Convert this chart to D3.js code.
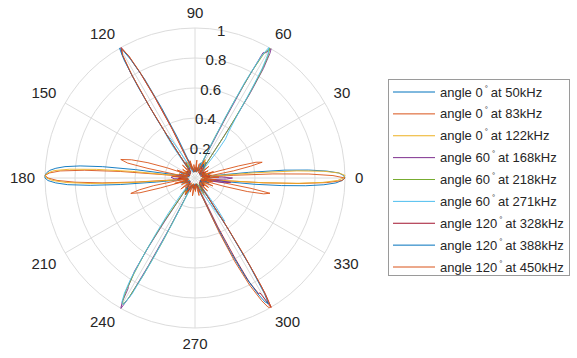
<!DOCTYPE html>
<html>
<head>
<meta charset="utf-8">
<script src="https://cdn.jsdelivr.net/npm/d3@7"></script>
<style>
  html, body { margin: 0; padding: 0; background: #fff; }
  svg text { font-family: "Liberation Sans", Arial, Helvetica, sans-serif; fill: #262626; }
</style>
</head>
<body>
<div id="chart"></div>
<script>
// polar beam patterns, [angle in degrees, normalised amplitude]
const s50 = [[-8,0.05],[-7,0.18],[-6,0.4],[-5,0.58],[-4,0.74],[-3,0.86],[-2,0.94],[-1,0.98],[0,1.0],[1,0.99],[2,0.96],[3,0.88],[4,0.76],[5,0.6],[6,0.36],[7,0.14],[9,0.05],[14,0.1],[19,0.04],[27,0.08],[37,0.05],[47,0.09],[55,0.13],[60,0.07],[68,0.11],[76,0.04],[90,0.07],[104,0.04],[114,0.1],[120,0.12],[127,0.05],[140,0.07],[151,0.04],[159,0.11],[165,0.07],[171,0.16],[172,0.4],[173,0.62],[174,0.77],[175,0.87],[176,0.93],[177,0.97],[178,0.99],[179,1.0],[180,1.0],[181,0.98],[182,0.93],[183,0.85],[184,0.7],[185,0.5],[186,0.26],[187,0.09],[191,0.05],[199,0.1],[211,0.04],[224,0.07],[234,0.1],[240,0.13],[247,0.06],[258,0.04],[271,0.08],[284,0.04],[294,0.09],[300,0.12],[306,0.05],[318,0.08],[331,0.04],[341,0.1],[347,0.06]];
const s83 = [[-18,0.05],[-16,0.2],[-14.5,0.36],[-13,0.47],[-11.5,0.51],[-10.5,0.38],[-9.5,0.2],[-8.5,0.06],[-6,0.08],[-5,0.22],[-4,0.46],[-3,0.7],[-2,0.88],[-1,0.98],[0,1.0],[1,0.92],[2,0.76],[3,0.52],[4,0.26],[5,0.08],[7,0.05],[9,0.12],[10.5,0.26],[12,0.38],[13.2,0.46],[14.5,0.42],[15.5,0.3],[16.5,0.16],[18,0.05],[26,0.07],[36,0.04],[49,0.08],[58,0.12],[65,0.05],[80,0.06],[96,0.04],[111,0.07],[121,0.12],[130,0.05],[146,0.06],[157,0.08],[160,0.2],[162,0.33],[164,0.44],[166,0.51],[167.5,0.46],[168.5,0.32],[170,0.1],[172,0.07],[174,0.22],[175,0.5],[176,0.74],[177,0.9],[178,0.97],[179,1.0],[180,0.98],[181,0.92],[182,0.8],[183,0.62],[184,0.38],[185,0.14],[187,0.05],[189,0.14],[190.5,0.28],[192,0.38],[193.5,0.44],[195,0.38],[196,0.24],[197.5,0.08],[208,0.05],[221,0.08],[237,0.12],[247,0.05],[264,0.07],[281,0.04],[299,0.11],[312,0.05],[326,0.07],[336,0.04]];
const s122 = [[-6,0.05],[-5,0.2],[-4,0.45],[-3,0.68],[-2,0.85],[-1,0.95],[0,0.99],[1,1.0],[2,0.96],[3,0.86],[4,0.68],[5,0.4],[6,0.14],[8,0.05],[15,0.09],[23,0.04],[34,0.07],[44,0.05],[54,0.11],[61,0.14],[67,0.05],[82,0.06],[97,0.04],[108,0.08],[117,0.12],[124,0.06],[137,0.04],[150,0.08],[162,0.05],[168,0.1],[173,0.16],[174,0.42],[175,0.66],[176,0.84],[177,0.94],[178,0.98],[179,1.0],[180,0.99],[181,0.95],[182,0.86],[183,0.7],[184,0.46],[185,0.2],[186,0.06],[193,0.08],[204,0.04],[217,0.07],[229,0.05],[237,0.12],[243,0.09],[252,0.04],[266,0.07],[279,0.05],[291,0.08],[298,0.13],[304,0.06],[316,0.04],[327,0.08],[339,0.05],[347,0.1]];
const s168 = [[-9,0.2],[-7,0.24],[-5,0.1],[-2,0.21],[0,0.25],[2,0.18],[4,0.06],[12,0.08],[24,0.04],[36,0.07],[46,0.05],[52,0.12],[55,0.3],[56,0.48],[57,0.68],[58,0.86],[59,0.97],[59.5,1.0],[60.5,0.96],[61.5,0.95],[62.3,0.7],[63,0.42],[64,0.18],[65.5,0.06],[78,0.05],[92,0.07],[106,0.04],[117,0.09],[124,0.06],[138,0.04],[152,0.06],[165,0.05],[173,0.12],[178,0.16],[182,0.14],[187,0.05],[198,0.07],[212,0.04],[226,0.06],[233,0.14],[235,0.35],[236,0.55],[237,0.74],[238.4,0.85],[238.8,0.86],[239.6,0.96],[240.4,1.0],[241.2,0.9],[242,0.66],[243,0.38],[244,0.15],[246,0.05],[262,0.06],[277,0.04],[291,0.07],[299,0.1],[306,0.05],[320,0.04],[334,0.07],[344,0.05]];
const s218 = [[-4,0.06],[3,0.1],[10,0.05],[21,0.08],[33,0.04],[44,0.07],[51,0.11],[54,0.2],[55.5,0.4],[57,0.64],[58,0.82],[59,0.94],[60,1.0],[61,0.95],[62,0.8],[63,0.56],[64,0.3],[65,0.12],[67,0.05],[81,0.06],[95,0.04],[110,0.07],[121,0.1],[131,0.05],[146,0.07],[159,0.04],[170,0.08],[180,0.1],[188,0.05],[201,0.08],[215,0.04],[228,0.07],[233,0.16],[234.5,0.36],[236,0.58],[237.5,0.76],[238.5,0.88],[239.5,0.95],[240.3,0.97],[241,0.92],[242,0.74],[243,0.48],[244,0.22],[245.5,0.07],[259,0.05],[274,0.07],[289,0.04],[301,0.1],[310,0.05],[324,0.07],[338,0.04],[350,0.08]];
const s271 = [[-6,0.07],[2,0.12],[8,0.05],[19,0.07],[30,0.04],[41,0.06],[47,0.1],[50,0.22],[52,0.33],[54,0.38],[56,0.5],[57.5,0.7],[58.5,0.86],[59.5,0.96],[60.5,1.0],[61.5,0.92],[62.5,0.72],[63.5,0.45],[64.5,0.2],[66,0.07],[80,0.05],[94,0.07],[108,0.04],[116,0.1],[120,0.22],[122,0.32],[123.7,0.36],[125,0.26],[127,0.08],[142,0.05],[156,0.07],[168,0.04],[177,0.11],[185,0.06],[198,0.04],[212,0.07],[224,0.05],[230,0.15],[233,0.3],[235,0.46],[236.5,0.64],[237.5,0.8],[238.5,0.9],[239.5,0.96],[240.5,0.97],[241.5,0.88],[242.5,0.62],[243.5,0.34],[245,0.12],[248,0.05],[264,0.07],[279,0.04],[293,0.08],[300,0.18],[302.5,0.3],[304.5,0.35],[306,0.24],[308,0.07],[322,0.05],[336,0.07],[346,0.04]];
const s328 = [[-8,0.06],[4,0.1],[16,0.05],[31,0.08],[44,0.04],[57,0.09],[66,0.05],[80,0.07],[94,0.04],[106,0.08],[113,0.15],[115,0.36],[116.5,0.6],[117.5,0.78],[118.5,0.92],[119.5,1.0],[120.5,0.96],[121.5,0.82],[122.5,0.58],[123.5,0.3],[125,0.1],[128,0.05],[143,0.07],[158,0.04],[171,0.08],[181,0.11],[190,0.05],[205,0.07],[219,0.04],[233,0.08],[242,0.1],[251,0.05],[265,0.07],[280,0.04],[293,0.14],[295,0.36],[296.5,0.6],[297.5,0.78],[298.8,0.88],[299.5,0.88],[300.5,1.0],[301.3,0.9],[302,0.7],[303,0.42],[304,0.18],[306,0.06],[320,0.08],[334,0.04],[345,0.07]];
const s388 = [[-5,0.08],[8,0.05],[22,0.07],[35,0.04],[48,0.08],[58,0.11],[64,0.05],[78,0.07],[92,0.04],[104,0.07],[111,0.14],[113.5,0.3],[115.5,0.52],[117,0.74],[118.5,0.9],[119.5,0.98],[120.2,1.0],[121,0.92],[122,0.72],[123,0.46],[124,0.22],[125.5,0.07],[139,0.05],[154,0.07],[167,0.04],[177,0.09],[184,0.05],[197,0.07],[211,0.04],[225,0.06],[237,0.1],[244,0.05],[258,0.07],[272,0.04],[286,0.08],[292,0.16],[294,0.34],[295.5,0.54],[297,0.74],[298.5,0.88],[299.5,0.95],[300.3,0.97],[301,0.9],[302,0.68],[303,0.4],[304,0.16],[305.5,0.06],[318,0.07],[332,0.04],[343,0.08]];
const s450 = [[-12,0.12],[-9,0.04],[-5,0.14],[-2,0.06],[2,0.16],[5,0.05],[10,0.11],[14,0.04],[19,0.13],[24,0.05],[29,0.1],[34,0.04],[40,0.12],[45,0.05],[50,0.09],[55,0.04],[62,0.13],[68,0.05],[73,0.1],[78,0.04],[84,0.12],[89,0.05],[95,0.09],[100,0.04],[106,0.12],[110,0.06],[113,0.16],[115,0.38],[116.5,0.62],[117.5,0.8],[118.5,0.93],[119.5,0.99],[120.5,0.95],[121.5,0.8],[122.5,0.56],[123.5,0.3],[125,0.1],[129,0.05],[134,0.12],[139,0.04],[145,0.1],[150,0.05],[156,0.13],[161,0.04],[166,0.11],[171,0.05],[176,0.15],[180,0.05],[185,0.12],[190,0.04],[195,0.14],[200,0.05],[206,0.1],[212,0.04],[218,0.12],[223,0.05],[229,0.09],[234,0.04],[240,0.13],[245,0.05],[251,0.1],[256,0.04],[262,0.12],[267,0.05],[272,0.09],[277,0.04],[283,0.12],[288,0.06],[292,0.17],[294,0.4],[295.5,0.62],[297,0.8],[298.5,0.93],[299.5,0.99],[300.5,1.0],[301.5,0.85],[302.5,0.6],[303.5,0.32],[305,0.1],[309,0.05],[314,0.12],[319,0.04],[325,0.11],[330,0.05],[336,0.13],[341,0.04]];

const seriesData = [s50, s83, s122, s168, s218, s271, s328, s388, s450];
const legendAngles = [0, 0, 0, 60, 60, 60, 120, 120, 120];
const legendFreqs = ["50kHz", "83kHz", "122kHz", "168kHz", "218kHz", "271kHz", "328kHz", "388kHz", "450kHz"];
const colors = ["#0072BD", "#D95319", "#EDB120", "#7E2F8E", "#77AC30", "#4DBEEE", "#A2142F", "#0072BD", "#D95319"];
const rTicks = [0.2, 0.4, 0.6, 0.8, 1];
const thetaTicks = [0, 30, 60, 90, 120, 150, 180, 210, 240, 270, 300, 330];

// layout
const width = 577, height = 358;
const cx = 195, cy = 178, R = 150;

const svg = d3.select("#chart").append("svg")
  .attr("width", width)
  .attr("height", height);

const r = d3.scaleLinear().domain([0, 1]).range([0, R]);
// matlab angles: 0 at right, counter-clockwise -> d3 radial angle
const ang = d3.scaleLinear().domain([0, 360]).range([Math.PI / 2, Math.PI / 2 - 2 * Math.PI]);

const g = svg.append("g").attr("transform", `translate(${cx},${cy})`);

// grid
g.selectAll("circle.ring")
  .data(rTicks)
  .enter().append("circle")
  .attr("class", "ring")
  .attr("r", d => r(d))
  .attr("fill", "none")
  .attr("stroke", "#dcdcdc")
  .attr("stroke-width", 1);

g.selectAll("line.spoke")
  .data(thetaTicks)
  .enter().append("line")
  .attr("class", "spoke")
  .attr("x1", 0).attr("y1", 0)
  .attr("x2", d => R * Math.sin(ang(d)))
  .attr("y2", d => -R * Math.cos(ang(d)))
  .attr("stroke", "#dcdcdc")
  .attr("stroke-width", 1);

// angle labels
const capH = 15 * 0.716;
thetaTicks.forEach(t => {
  const rad = t * Math.PI / 180;
  const c = Math.cos(rad), s = Math.sin(rad);
  const x = (R + 10) * c, y = -(R + 10) * s;
  let anchor = "middle";
  if (c > 0.1) anchor = "start";
  else if (c < -0.1) anchor = "end";
  let dy = capH / 2;
  if (s > 0.1) dy = 0;
  else if (s < -0.1) dy = capH;
  g.append("text")
    .attr("x", x)
    .attr("y", y + dy)
    .attr("text-anchor", anchor)
    .style("font-size", "15px")
    .text(t);
});

// data lines
const line = d3.lineRadial()
  .angle(d => ang(d[0]))
  .radius(d => r(d[1]))
  .curve(d3.curveLinearClosed);

seriesData.forEach((data, i) => {
  g.append("path")
    .datum(data)
    .attr("fill", "none")
    .attr("stroke", colors[i])
    .attr("stroke-width", 0.9)
    .attr("stroke-linejoin", "miter")
    .attr("d", line);
});

// radial tick labels along 80 deg
rTicks.forEach(t => {
  g.append("text")
    .attr("x", r(t) * Math.cos(80 * Math.PI / 180))
    .attr("y", -r(t) * Math.sin(80 * Math.PI / 180) + capH / 2)
    .attr("text-anchor", "middle")
    .style("font-size", "15px")
    .text(t);
});

// legend
const lg = svg.append("g").attr("transform", "translate(388.5,79.5)");
lg.append("rect")
  .attr("width", 181)
  .attr("height", 196)
  .attr("fill", "#fff")
  .attr("stroke", "#9a9a9a")
  .attr("stroke-width", 1);

const rowY = d3.scaleLinear().domain([0, 8]).range([12.5, 187.5]);

legendFreqs.forEach((f, i) => {
  const y = rowY(i);
  lg.append("line")
    .attr("x1", 4.5).attr("x2", 46.5)
    .attr("y1", y).attr("y2", y)
    .attr("stroke", colors[i])
    .attr("stroke-width", 1);
  const txt = lg.append("text")
    .attr("x", 51.5)
    .attr("y", y + 4.6)
    .style("font-size", "13px");
  txt.append("tspan").text("angle " + legendAngles[i]);
  txt.append("tspan").attr("dx", 2).attr("dy", -6).style("font-size", "8px").text("°");
  txt.append("tspan").attr("dx", 3).attr("dy", 6).text("at " + f);
});
</script>
</body>
</html>
